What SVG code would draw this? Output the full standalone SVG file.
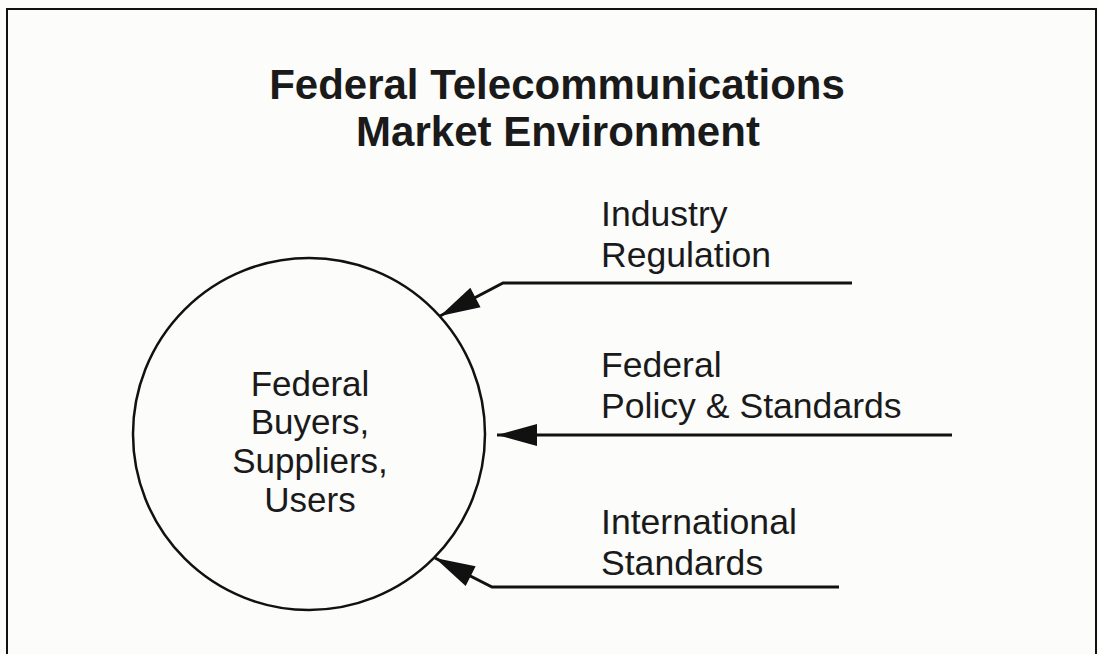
<svg xmlns="http://www.w3.org/2000/svg" width="1099" height="654" viewBox="0 0 1099 654">
  <style>
    .title { font-family: "Liberation Sans", Arial, sans-serif; font-weight: bold; font-size: 42px; fill: #1a1a1a; text-anchor: middle; }
    .label { font-family: "Liberation Sans", Arial, sans-serif; font-size: 35px; fill: #1a1a1a; }
    .side { font-size: 35.6px; }
    .node-text { text-anchor: middle; }
    .frame { fill: none; stroke: #111; stroke-width: 2; }
    .circle { fill: none; stroke: #111; stroke-width: 2.5; }
    .conn { fill: none; stroke: #111; stroke-width: 3; stroke-linejoin: miter; marker-end: url(#head); }
  </style>
  <defs>
    <marker id="head" markerUnits="userSpaceOnUse" markerWidth="44" markerHeight="26" viewBox="-42 -13 44 26" refX="0" refY="0" orient="auto">
      <path d="M0,0 L-40,-11 L-40,11 Z" fill="#111"/>
    </marker>
  </defs>

  <rect x="0" y="0" width="1099" height="654" fill="#fcfcfb"/>

  <!-- outer frame, open at the bottom -->
  <path class="frame" d="M7,654 L7,9 L1096,9 L1096,654"/>

  <!-- title -->
  <g id="title">
    <text class="title" x="557" y="99">Federal Telecommunications</text>
    <text class="title" x="558" y="146">Market Environment</text>
  </g>

  <!-- central node -->
  <g id="market">
    <circle class="circle" cx="309" cy="434" r="176"/>
    <text class="label node-text" x="310" y="396">Federal</text>
    <text class="label node-text" x="310" y="434">Buyers,</text>
    <text class="label node-text" x="310" y="473">Suppliers,</text>
    <text class="label node-text" x="310" y="512">Users</text>
  </g>

  <!-- influence sources -->
  <g id="industry-regulation">
    <text class="label side" x="601" y="226">Industry</text>
    <text class="label side" x="601" y="267">Regulation</text>
  </g>
  <g id="federal-policy">
    <text class="label side" x="601" y="377">Federal</text>
    <text class="label side" x="601" y="418">Policy &amp; Standards</text>
  </g>
  <g id="international-standards">
    <text class="label side" x="601" y="534">International</text>
    <text class="label side" x="601" y="575">Standards</text>
  </g>

  <!-- connectors -->
  <g id="connectors">
    <path class="conn" d="M852,283 L503,283 L440,316"/>
    <path class="conn" d="M952,435 L497,435"/>
    <path class="conn" d="M839,587 L492,587 L435,558"/>
  </g>
</svg>
